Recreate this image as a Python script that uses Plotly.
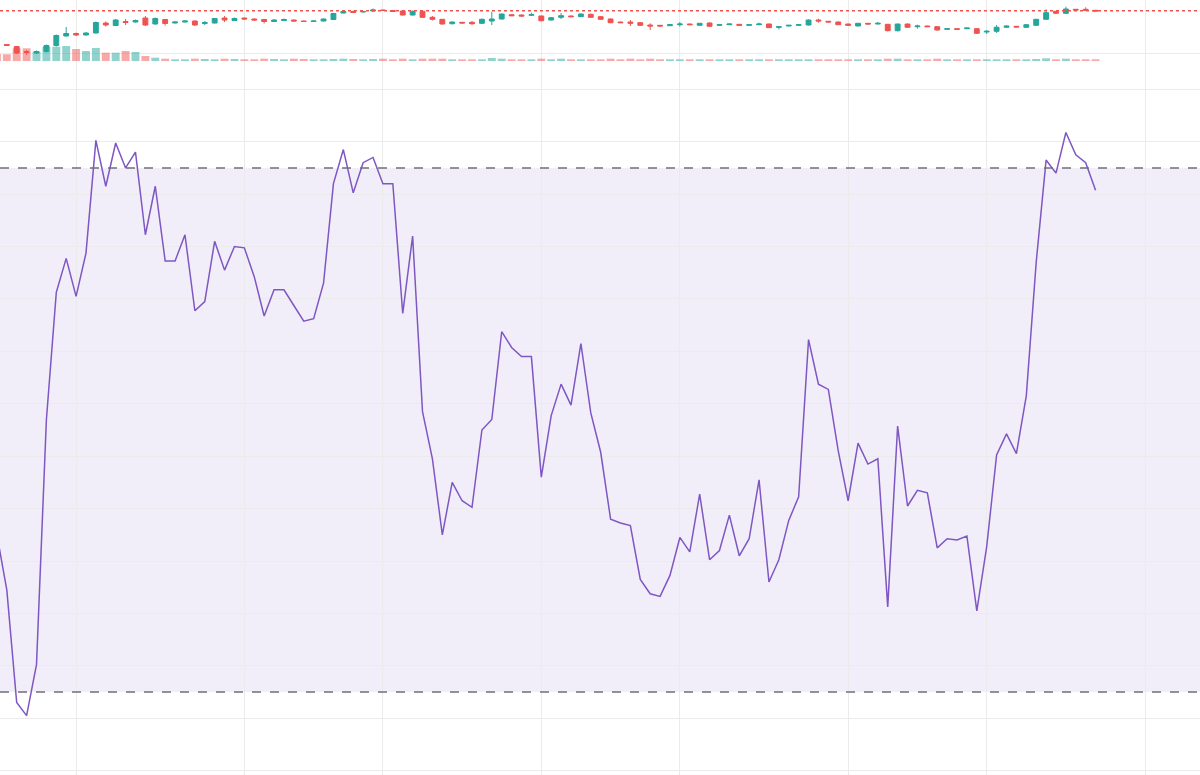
import pandas as pd
import plotly.graph_objects as go
from plotly.subplots import make_subplots

# ---------------- data ----------------
start_date = "2024-03-07"
n_days = 112
dates = pd.date_range(start_date, periods=n_days, freq="D")

open_ = [110, 108.5, 106.5, 101.5, 100, 101.5, 107.5, 117, 119.5, 118, 120, 130, 127.5, 131.5, 131, 135, 129, 133.5, 130, 131,
         132, 129.5, 130, 135, 132.5, 135, 134, 133.5, 131.5, 132.5, 133, 132, 131.5, 132, 133.5, 140, 141.5, 141, 142, 143,
         142.5, 142, 138, 141.7, 135.7, 133.7, 129.3, 130.7, 130.7, 129.7, 132, 134, 138.3, 138, 137.7, 137, 133, 135.7, 137, 136.3,
         138.7, 136.3, 134, 131, 131, 130.3, 128, 127.7, 127.3, 128.3, 129, 127.7, 130, 127.7, 128.3, 128.7, 127.7, 128.3, 129, 125.7,
         127, 127.7, 128, 133, 131.7, 131, 129, 127, 129.7, 129, 128.7, 122.3, 129, 126.3, 127, 126.3, 123.7, 124.3, 124.3, 124.3,
         121, 121.7, 125.7, 126.7, 125.7, 127.7, 133.7, 141.7, 139.7, 143.7, 143.7, 142.7]
close = [108.5, 107.5, 100, 100.5, 101.5, 107.5, 117.5, 119.5, 118, 120, 130.5, 128, 133, 130.5, 132.5, 128, 134.5, 129.5, 131, 132,
         128, 130.5, 134.5, 133, 134.5, 134, 133, 131.5, 133, 133.5, 132, 131.5, 132, 134, 139.5, 141.5, 140.5, 141.5, 143, 142.5,
         141.5, 138, 141.7, 135.7, 133.7, 129, 131, 130, 129.3, 133.7, 134, 139, 137.3, 137, 138.3, 132.3, 135.3, 137.3, 136.3, 139,
         135.7, 133.7, 130.3, 130.3, 129.7, 127.7, 127, 127, 128.3, 129, 128.3, 129.7, 126.7, 128.3, 129, 127.7, 128.3, 129, 125.3, 126.3,
         127.7, 128.3, 133, 132, 131, 128.3, 127.7, 129.7, 129, 129.7, 122.3, 129, 125.7, 127, 126.3, 123, 124.3, 123.7, 125, 119.7,
         121.7, 125.7, 127, 126, 128.3, 133.7, 140.3, 139.7, 144, 143, 142.7, 142]
high = [110.5, 109, 107, 103, 102.5, 108.5, 118.5, 126, 120.5, 121, 131.5, 131.5, 134, 134, 133.5, 137, 135.5, 134, 131.5, 132.5,
        132.5, 132, 135, 137, 135.5, 135.5, 134.5, 134, 134, 134.5, 133.5, 132.5, 132.5, 134.5, 140, 142.5, 142.5, 142, 144.5, 143.5,
        143, 142.5, 142.5, 142, 137, 134, 131.5, 131, 132, 134.5, 141.3, 139.5, 139, 138.5, 140.3, 137.5, 136, 140, 137.5, 139.5,
        139.5, 137, 134.5, 131.3, 133, 130.8, 129.7, 128, 128.7, 131, 129.3, 130, 130.5, 128.7, 129.3, 129, 128.7, 130.3, 129.3, 127,
        128, 128.7, 133.5, 134.3, 132, 131.3, 129.3, 130, 130, 131, 129, 129.3, 129.3, 128.3, 127.3, 126.7, 124.7, 124.7, 125.3, 124.7,
        123, 128, 127.5, 127, 128.7, 134, 143.7, 142, 146.3, 144, 145.7, 143]
low = [108, 107, 99, 98, 99, 100.5, 106.5, 116.5, 117, 117.5, 119.5, 126.5, 127, 128, 130.5, 127, 128.5, 127.5, 129.5, 130.5,
       127, 128, 129.5, 131, 132, 133.5, 132.5, 129.5, 131, 132, 131.5, 131, 131, 131.5, 133, 139.5, 140, 140.5, 141.5, 142,
       141, 137.5, 137.5, 135, 132.5, 128.5, 128.5, 129.5, 128, 129, 128, 133.5, 136.8, 136.5, 137.3, 131.5, 132.5, 134, 136, 136,
       135, 133.3, 129.8, 130, 127, 127.3, 123, 126.5, 127, 126.3, 128, 127.3, 126.3, 127.3, 128, 127.3, 127.3, 128, 125, 123.7,
       126.7, 127.3, 127.5, 130.3, 130.7, 128, 127.3, 126.7, 128.7, 128.7, 121.7, 121.5, 125.3, 124.3, 126, 122.3, 123.3, 123.3, 124, 119,
       119, 120, 125.3, 125.7, 125.3, 127.3, 133.3, 139.3, 139.3, 142.7, 142.3, 141.7]
volume = [700, 670, 1270, 1270, 930, 1430, 1430, 1500, 1200, 1000, 1300, 830, 830, 1000, 900, 500, 330, 230, 170, 170,
          230, 200, 170, 230, 200, 170, 170, 230, 200, 170, 230, 200, 170, 170, 200, 230, 200, 170, 200, 230,
          170, 230, 170, 230, 230, 230, 170, 170, 170, 170, 300, 230, 170, 170, 170, 230, 170, 230, 170, 170,
          170, 170, 230, 170, 230, 170, 230, 170, 170, 170, 170, 170, 170, 170, 170, 170, 170, 170, 170, 170,
          170, 170, 170, 170, 170, 170, 170, 170, 170, 170, 230, 230, 170, 170, 170, 230, 170, 170, 170, 170,
          170, 170, 170, 170, 170, 200, 270, 170, 230, 170, 170, 170]
rsi = [42.0, 37.8, 29.2, 28.2, 32.1, 50.8, 60.5, 63.1, 60.2, 63.5, 72.1, 68.6, 71.9, 70.0, 71.2, 64.9, 68.6, 62.9, 62.9, 64.9,
       59.1, 59.8, 64.4, 62.2, 64.0, 63.9, 61.7, 58.7, 60.7, 60.7, 59.5, 58.3, 58.5, 61.2, 68.8, 71.4, 68.1, 70.4, 70.8, 68.8,
       68.8, 58.9, 64.8, 51.4, 47.8, 42.0, 46.0, 44.6, 44.1, 50.0, 50.8, 57.5, 56.3, 55.6, 55.6, 46.4, 51.1, 53.5, 51.9, 56.6,
       51.3, 48.3, 43.2, 42.9, 42.7, 38.6, 37.5, 37.3, 38.9, 41.8, 40.7, 45.1, 40.1, 40.8, 43.5, 40.4, 41.7, 46.2, 38.4, 40.1,
       43.1, 44.9, 56.9, 53.5, 53.1, 48.4, 44.6, 49.0, 47.4, 47.8, 36.5, 50.3, 44.2, 45.4, 45.2, 41.0, 41.7, 41.6, 41.9, 36.2,
       41.1, 48.1, 49.7, 48.2, 52.6, 62.8, 70.6, 69.6, 72.7, 71.0, 70.4, 68.3]

rsi_upper = 70
rsi_lower = 30
level_line = 142.3
month_ticks = ["2024-03-15", "2024-04-01", "2024-04-15", "2024-05-01", "2024-05-15",
               "2024-06-01", "2024-06-15", "2024-07-01"]
x_range = ["2024-03-07 07:30", "2024-07-06 13:10"]

# ---------------- style ----------------
UP = "#26a69a"
DOWN = "#ef5350"
UP_VOL = "rgba(38,166,154,0.5)"
DOWN_VOL = "rgba(239,83,80,0.5)"
RSI_COLOR = "#7e57c2"
GRID = "#ebebeb"

vol_colors = [UP_VOL if c >= o else DOWN_VOL for o, c in zip(open_, close)]

fig = make_subplots(rows=2, cols=1, shared_xaxes=True, vertical_spacing=0,
                    row_heights=[61, 714], specs=[[{"secondary_y": True}], [{}]])

fig.add_trace(go.Bar(x=dates, y=volume, marker=dict(color=vol_colors, line=dict(width=0)),
                     showlegend=False, hoverinfo="skip"), row=1, col=1, secondary_y=False)
fig.add_trace(go.Candlestick(x=dates, open=open_, high=high, low=low, close=close,
                             increasing=dict(line=dict(color=UP, width=1), fillcolor=UP),
                             decreasing=dict(line=dict(color=DOWN, width=1), fillcolor=DOWN),
                             showlegend=False), row=1, col=1, secondary_y=True)
fig.add_trace(go.Scatter(x=dates, y=rsi, mode="lines", line=dict(color=RSI_COLOR, width=1.5),
                         showlegend=False), row=2, col=1)

# RSI band and level lines
fig.add_shape(type="rect", xref="x2 domain", yref="y3", x0=0, x1=1, y0=rsi_lower, y1=rsi_upper,
              fillcolor="rgba(126,87,194,0.1)", line=dict(width=0), layer="below")
for lvl in (rsi_upper, rsi_lower):
    fig.add_shape(type="line", xref="x2 domain", yref="y3", x0=0, x1=1, y0=lvl, y1=lvl,
                  line=dict(color="#6f6f7a", width=1.5, dash="dash"))
# price level line
fig.add_shape(type="line", xref="x domain", yref="y2", x0=0, x1=1, y0=level_line, y1=level_line,
              line=dict(color=DOWN, width=1.5, dash="dot"))

fig.update_xaxes(range=x_range, tickvals=month_ticks, showticklabels=False, showgrid=True,
                 gridcolor=GRID, gridwidth=1, zeroline=False, showline=False, ticks="",
                 rangeslider_visible=False, domain=[0, 1])
fig.update_yaxes(range=[0, 6100], showgrid=False, showticklabels=False, zeroline=False,
                 row=1, col=1, secondary_y=False)
fig.update_yaxes(range=[92, 153], tickvals=[100], showgrid=True, gridcolor=GRID,
                 showticklabels=False, zeroline=False, row=1, col=1, secondary_y=True)
fig.update_yaxes(range=[23.67, 78.16], tick0=0, dtick=4, showgrid=True, gridcolor=GRID,
                 showticklabels=False, zeroline=False, row=2, col=1)

fig.update_layout(width=1200, height=775, margin=dict(l=0, r=0, t=0, b=0),
                  paper_bgcolor="white", plot_bgcolor="white", bargap=0.2,
                  showlegend=False, hovermode="x")

fig.write_html("out.html", config={"displayModeBar": False},
               post_script="document.body.style.margin='0';")
